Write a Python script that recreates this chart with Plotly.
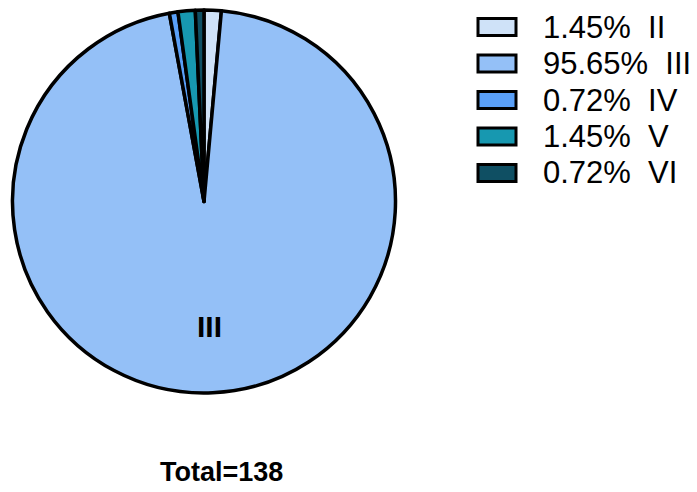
import math
import plotly.graph_objects as go

# Cases per grade
grades = ["II", "III", "IV", "V", "VI"]
counts = [2, 132, 1, 2, 1]
colors = ["#cfe2f8", "#94c0f7", "#5aa0f8", "#1798b0", "#0f4f63"]

W, H = 697, 492
total = sum(counts)
pcts = [100 * c / total for c in counts]

# Pie geometry in pixels
cx, cy0, r = 204, 201.5, 191.5

fig = go.Figure(
    go.Pie(
        labels=grades,
        values=counts,
        sort=False,
        direction="clockwise",
        rotation=0,
        marker=dict(colors=colors, line=dict(color="black", width=3.5)),
        textinfo="none",
        hoverinfo="label+percent",
        showlegend=False,
        domain=dict(x=[(cx - r) / W, (cx + r) / W], y=[1 - (cy0 + r) / H, 1 - (cy0 - r) / H]),
    )
)

shapes, annotations = [], []

# Label the dominant slice at its mid-angle (clockwise from 12 o'clock)
cum = 0
for g, c in zip(grades, counts):
    if c / total > 0.5:
        ang = math.radians(360 * (cum + c / 2) / total)
        lx = cx + 0.655 * r * math.sin(ang)
        ly = cy0 - 0.655 * r * math.cos(ang)
        annotations.append(dict(
            xref="paper", yref="paper", x=lx / W, y=1 - ly / H,
            xanchor="center", yanchor="middle", showarrow=False,
            text=f"<b>{g}</b>",
            font=dict(family="Liberation Sans", size=30, color="black"),
        ))
    cum += c

# Hand-built legend with wide swatches
box_x0, box_x1, text_x = 478, 516, 541
row0, row_step, box_h = 27, 36.5, 17
for i, (g, p, col) in enumerate(zip(grades, pcts, colors)):
    ry = row0 + i * row_step
    shapes.append(dict(
        type="rect", xref="paper", yref="paper",
        x0=box_x0 / W, x1=box_x1 / W,
        y0=1 - (ry + box_h / 2) / H, y1=1 - (ry - box_h / 2) / H,
        fillcolor=col, line=dict(color="black", width=3),
    ))
    annotations.append(dict(
        xref="paper", yref="paper", x=text_x / W, y=1 - ry / H,
        xanchor="left", yanchor="middle", showarrow=False,
        text=f"{p:.2f}%\u00a0\u00a0{g}",
        font=dict(family="Liberation Sans", size=31, color="black"),
    ))

annotations.append(dict(
    xref="paper", yref="paper", x=221 / W, y=1 - 472 / H,
    xanchor="center", yanchor="middle", showarrow=False,
    text=f"<b>Total={total}</b>",
    font=dict(family="Liberation Sans", size=27, color="black"),
))

fig.update_layout(
    width=W, height=H,
    margin=dict(l=0, r=0, t=0, b=0),
    paper_bgcolor="white", plot_bgcolor="white",
    shapes=shapes, annotations=annotations,
)

fig.write_html("out.html")
